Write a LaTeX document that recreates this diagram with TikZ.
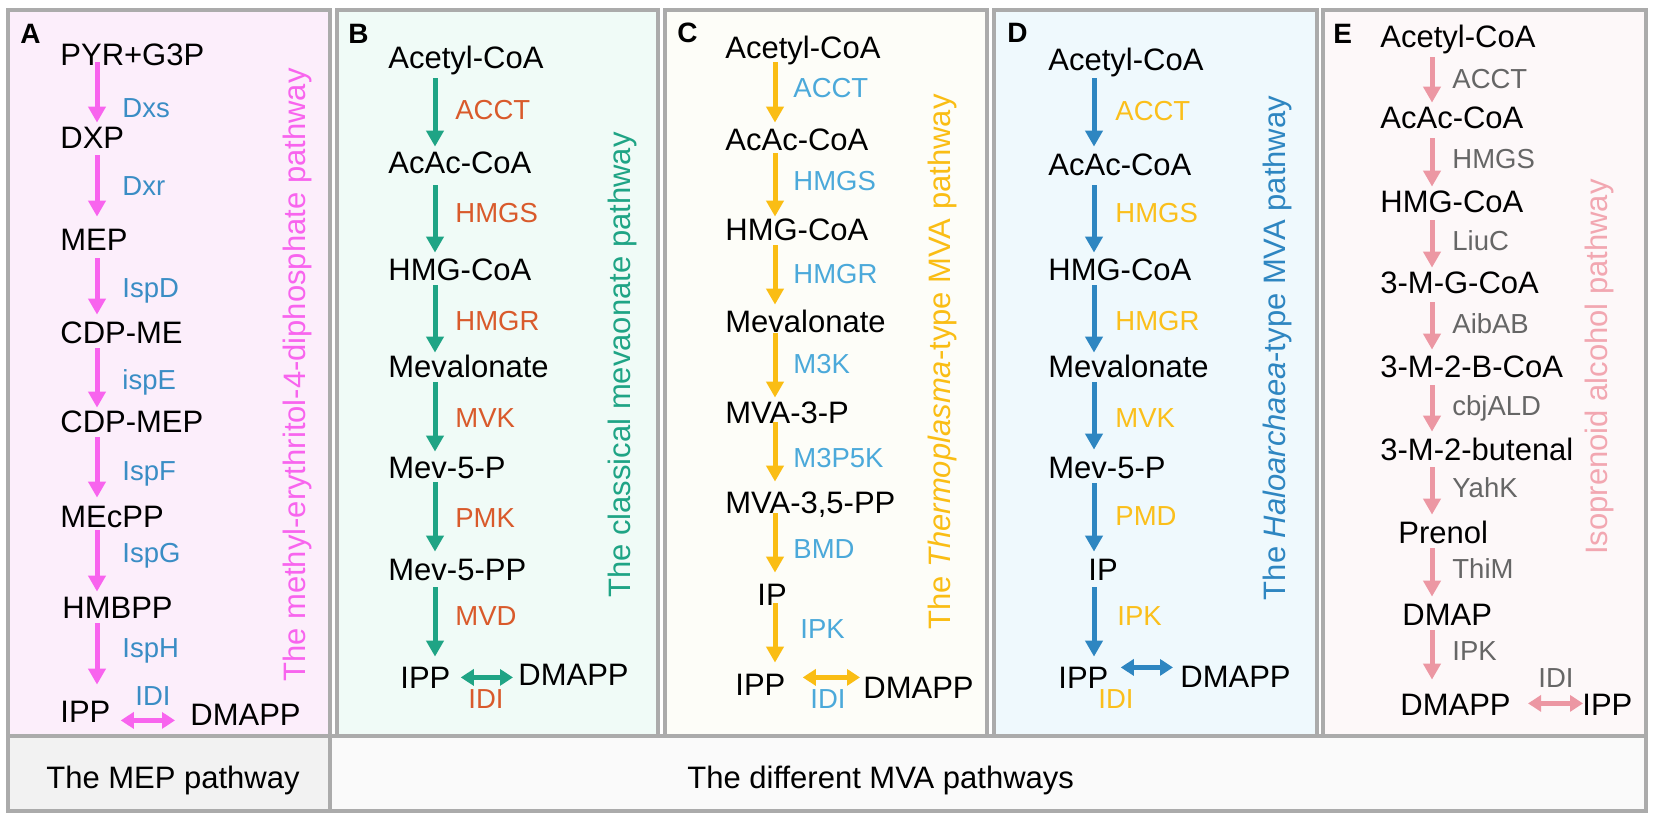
\documentclass[tikz,border=0pt]{standalone}
\usepackage{fontspec}
\setmainfont{Liberation Sans}
\usetikzlibrary{arrows.meta,calc}
\definecolor{frame}{HTML}{ABABAB}
\definecolor{fillA}{HTML}{FCEEFB}
\definecolor{fillB}{HTML}{F0FBF7}
\definecolor{fillC}{HTML}{FDFDF8}
\definecolor{fillD}{HTML}{EFF9FD}
\definecolor{fillE}{HTML}{FDF8F9}
\definecolor{mepF}{HTML}{F2F2F2}
\definecolor{mvaF}{HTML}{FAFAFA}
\definecolor{arrA}{HTML}{F864EE}
\definecolor{enzA}{HTML}{3A8DC5}
\definecolor{arrB}{HTML}{1FA485}
\definecolor{enzB}{HTML}{D95A2B}
\definecolor{arrC}{HTML}{FABD14}
\definecolor{enzC}{HTML}{4BA9DA}
\definecolor{arrD}{HTML}{2E86C1}
\definecolor{enzD}{HTML}{FBBF1B}
\definecolor{arrE}{HTML}{EC97A3}
\definecolor{enzE}{HTML}{666666}
\definecolor{vE}{HTML}{F2A7B1}
\newcommand\pathrx[6]{\draw[rxn,draw=#1] ($(#2.south -| #3)+(0,#4)$) -- ($(#5.north -| #3)+(0,#6)$);}
\begin{document}
\begin{tikzpicture}[x=0.5pt,y=-0.5pt,
  met/.style={anchor=base west,inner sep=0pt,font=\fontsize{15.5}{18}\selectfont,text height=11pt,text depth=0pt},
  enz/.style={anchor=base west,inner sep=0pt,font=\fontsize{13.75}{16}\selectfont},
  vlab/.style={anchor=base,inner sep=0pt,rotate=90,font=\fontsize{15.5}{18}\selectfont},
  plab/.style={anchor=base west,inner sep=0pt,font=\bfseries\fontsize{14}{16}\selectfont},
  btxt/.style={inner sep=0pt,font=\fontsize{15.5}{18}\selectfont},
  panel/.style={draw=frame,line width=2pt},
  rxn/.style={line width=2.5pt,-{Triangle[width=8.5pt,length=8pt]}},
  iso/.style={line width=2.5pt,{Triangle[width=8pt,length=6.5pt]}-{Triangle[width=8pt,length=6.5pt]}}]
\useasboundingbox (0,0) rectangle (1654,821);
\fill[white] (0,0) rectangle (1654,821);
% frames
\draw[panel,fill=fillA] (7.5,9.5) rectangle (329.5,735.5);
\draw[panel,fill=fillB] (337,9.5) rectangle (658,735.5);
\draw[panel,fill=fillC] (665,9.5) rectangle (987,735.5);
\draw[panel,fill=fillD] (994,9.5) rectangle (1317,735.5);
\draw[panel,fill=fillE] (1322.5,9.5) rectangle (1645.5,735.5);
\draw[panel,fill=mepF] (7.5,735.5) rectangle (330,810.5);
\draw[panel,fill=mvaF] (330,735.5) rectangle (1645.5,810.5);
\node[btxt,anchor=base] (mep) at (173,788) {The MEP pathway};
\node[btxt,anchor=base west] (mva) at (687,788) {The different MVA pathways};
% ---------- Panel A
\node[plab] (la) at (20,43) {A};
\node[met] (a1) at (60,65) {PYR+G3P};
\node[met] (a2) at (60,148) {DXP};
\node[met] (a3) at (60,250) {MEP};
\node[met] (a4) at (60,343) {CDP-ME};
\node[met] (a5) at (60,432) {CDP-MEP};
\node[met] (a6) at (60,527) {MEcPP};
\node[met] (a7) at (62,618) {HMBPP};
\node[met] (a8) at (60,722) {IPP};
\node[met] (a9) at (190,725) {DMAPP};
\coordinate (ca) at (97,0);
\pathrx{arrA}{a1}{ca}{-3}{a2}{-3}
\pathrx{arrA}{a2}{ca}{7}{a3}{-11}
\pathrx{arrA}{a3}{ca}{8}{a4}{-6}
\pathrx{arrA}{a4}{ca}{5}{a5}{-2}
\pathrx{arrA}{a5}{ca}{5}{a6}{-7}
\pathrx{arrA}{a6}{ca}{3}{a7}{-4}
\pathrx{arrA}{a7}{ca}{5}{a8}{-15}
\draw[iso,draw=arrA] ($(a8.south east)+(10,-2)$) -- ($(a9.south west)+(-15,-5)$);
\begin{scope}[every node/.style={enz,text=enzA}]
\node (ea1) at (122,117) {Dxs};
\node (ea2) at (122,195) {Dxr};
\node (ea3) at (122,297) {IspD};
\node (ea4) at (122,389) {ispE};
\node (ea5) at (122,480) {IspF};
\node (ea6) at (122,562) {IspG};
\node (ea7) at (122,657) {IspH};
\node (ea8) at (135,705) {IDI};
\end{scope}
\node[vlab,text=arrA] (va) at (305,375) {The methyl-erythritol-4-diphosphate pathway};
% ---------- Panel B
\node[plab] (lb) at (348,43) {B};
\node[met] (b1) at (388,68) {Acetyl-CoA};
\node[met] (b2) at (388,173) {AcAc-CoA};
\node[met] (b3) at (388,280) {HMG-CoA};
\node[met] (b4) at (388,377) {Mevalonate};
\node[met] (b5) at (388,478) {Mev-5-P};
\node[met] (b6) at (388,580) {Mev-5-PP};
\node[met] (b7) at (400,688) {IPP};
\node[met] (b8) at (518,685) {DMAPP};
\coordinate (cb) at (435,0);
\pathrx{arrB}{b1}{cb}{10}{b2}{-4}
\pathrx{arrB}{b2}{cb}{12}{b3}{-5}
\pathrx{arrB}{b3}{cb}{5}{b4}{-2}
\pathrx{arrB}{b4}{cb}{5}{b5}{-4}
\pathrx{arrB}{b5}{cb}{4}{b6}{-6}
\pathrx{arrB}{b6}{cb}{7}{b7}{-9}
\draw[iso,draw=arrB] ($(b7.south east)+(10,-11)$) -- ($(b8.south west)+(-5,-8)$);
\begin{scope}[every node/.style={enz,text=enzB}]
\node (eb1) at (455,119) {ACCT};
\node (eb2) at (455,222) {HMGS};
\node (eb3) at (455,330) {HMGR};
\node (eb4) at (455,427) {MVK};
\node (eb5) at (455,527) {PMK};
\node (eb6) at (455,625) {MVD};
\node (eb7) at (468,708) {IDI};
\end{scope}
\node[vlab,text=arrB] (vb) at (630,365) {The classical mevaonate pathway};
% ---------- Panel C
\node[plab] (lc) at (677,42) {C};
\node[met] (c1) at (725,58) {Acetyl-CoA};
\node[met] (c2) at (725,150) {AcAc-CoA};
\node[met] (c3) at (725,240) {HMG-CoA};
\node[met] (c4) at (725,332) {Mevalonate};
\node[met] (c5) at (725,423) {MVA-3-P};
\node[met] (c6) at (725,513) {MVA-3,5-PP};
\node[met] (c7) at (757,605) {IP};
\node[met] (c8) at (735,695) {IPP};
\node[met] (c9) at (863,698) {DMAPP};
\coordinate (cc) at (775,0);
\pathrx{arrC}{c1}{cc}{4}{c2}{-5}
\pathrx{arrC}{c2}{cc}{3}{c3}{-1}
\pathrx{arrC}{c3}{cc}{5}{c4}{-5}
\pathrx{arrC}{c4}{cc}{1}{c5}{-3}
\pathrx{arrC}{c5}{cc}{-1}{c6}{-9}
\pathrx{arrC}{c6}{cc}{0}{c7}{-10}
\pathrx{arrC}{c7}{cc}{-2}{c8}{-10}
\draw[iso,draw=arrC] ($(c8.south east)+(17,-18)$) -- ($(c9.south west)+(-3,-21)$);
\begin{scope}[every node/.style={enz,text=enzC}]
\node (ec1) at (793,97) {ACCT};
\node (ec2) at (793,190) {HMGS};
\node (ec3) at (793,283) {HMGR};
\node (ec4) at (793,373) {M3K};
\node (ec5) at (793,467) {M3P5K};
\node (ec6) at (793,558) {BMD};
\node (ec7) at (800,638) {IPK};
\node (ec8) at (810,708) {IDI};
\end{scope}
\node[vlab,text=arrC] (vc) at (950,362) {The \textit{Thermoplasma}-type MVA pathway};
% ---------- Panel D
\node[plab] (ld) at (1007,42) {D};
\node[met] (d1) at (1048,70) {Acetyl-CoA};
\node[met] (d2) at (1048,175) {AcAc-CoA};
\node[met] (d3) at (1048,280) {HMG-CoA};
\node[met] (d4) at (1048,377) {Mevalonate};
\node[met] (d5) at (1048,478) {Mev-5-P};
\node[met] (d6) at (1088,580) {IP};
\node[met] (d7) at (1058,688) {IPP};
\node[met] (d8) at (1180,687) {DMAPP};
\coordinate (cd) at (1094,0);
\pathrx{arrD}{d1}{cd}{8}{d2}{-6}
\pathrx{arrD}{d2}{cd}{10}{d3}{-5}
\pathrx{arrD}{d3}{cd}{5}{d4}{-2}
\pathrx{arrD}{d4}{cd}{5}{d5}{-6}
\pathrx{arrD}{d5}{cd}{5}{d6}{-6}
\pathrx{arrD}{d6}{cd}{7}{d7}{-9}
\draw[iso,draw=arrD] ($(d7.south east)+(12,-21)$) -- ($(d8.south west)+(-7,-20)$);
\begin{scope}[every node/.style={enz,text=enzD}]
\node (ed1) at (1115,120) {ACCT};
\node (ed2) at (1115,222) {HMGS};
\node (ed3) at (1115,330) {HMGR};
\node (ed4) at (1115,427) {MVK};
\node (ed5) at (1115,525) {PMD};
\node (ed6) at (1117,625) {IPK};
\node (ed7) at (1098,708) {IDI};
\end{scope}
\node[vlab,text=arrD] (vd) at (1285,348) {The \textit{Haloarchaea}-type MVA pathway};
% ---------- Panel E
\node[plab] (le) at (1333,43) {E};
\node[met] (e1) at (1380,47) {Acetyl-CoA};
\node[met] (e2) at (1380,128) {AcAc-CoA};
\node[met] (e3) at (1380,212) {HMG-CoA};
\node[met] (e4) at (1380,293) {3-M-G-CoA};
\node[met] (e5) at (1380,377) {3-M-2-B-CoA};
\node[met] (e6) at (1380,460) {3-M-2-butenal};
\node[met] (e7) at (1398,543) {Prenol};
\node[met] (e8) at (1402,625) {DMAP};
\node[met] (e9) at (1400,715) {DMAPP};
\node[met] (e10) at (1582,715) {IPP};
\coordinate (ce) at (1432,0);
\pathrx{arrE}{e1}{ce}{10}{e2}{-3}
\pathrx{arrE}{e2}{ce}{10}{e3}{-3}
\pathrx{arrE}{e3}{ce}{8}{e4}{-3}
\pathrx{arrE}{e4}{ce}{9}{e5}{-5}
\pathrx{arrE}{e5}{ce}{8}{e6}{-6}
\pathrx{arrE}{e6}{ce}{7}{e7}{-6}
\pathrx{arrE}{e7}{ce}{5}{e8}{-6}
\pathrx{arrE}{e8}{ce}{5}{e9}{-13}
\draw[iso,draw=arrE] ($(e9.south east)+(17,-12)$) -- ($(e10.south west)+(1,-12)$);
\begin{scope}[every node/.style={enz,text=enzE}]
\node (ee1) at (1452,88) {ACCT};
\node (ee2) at (1452,168) {HMGS};
\node (ee3) at (1452,250) {LiuC};
\node (ee4) at (1452,333) {AibAB};
\node (ee5) at (1452,415) {cbjALD};
\node (ee6) at (1452,497) {YahK};
\node (ee7) at (1452,578) {ThiM};
\node (ee8) at (1452,660) {IPK};
\node (ee9) at (1538,687) {IDI};
\end{scope}
\node[vlab,text=vE] (ve) at (1607,367) {Isoprenoid alcohol pathway};
\end{tikzpicture}
\end{document}
